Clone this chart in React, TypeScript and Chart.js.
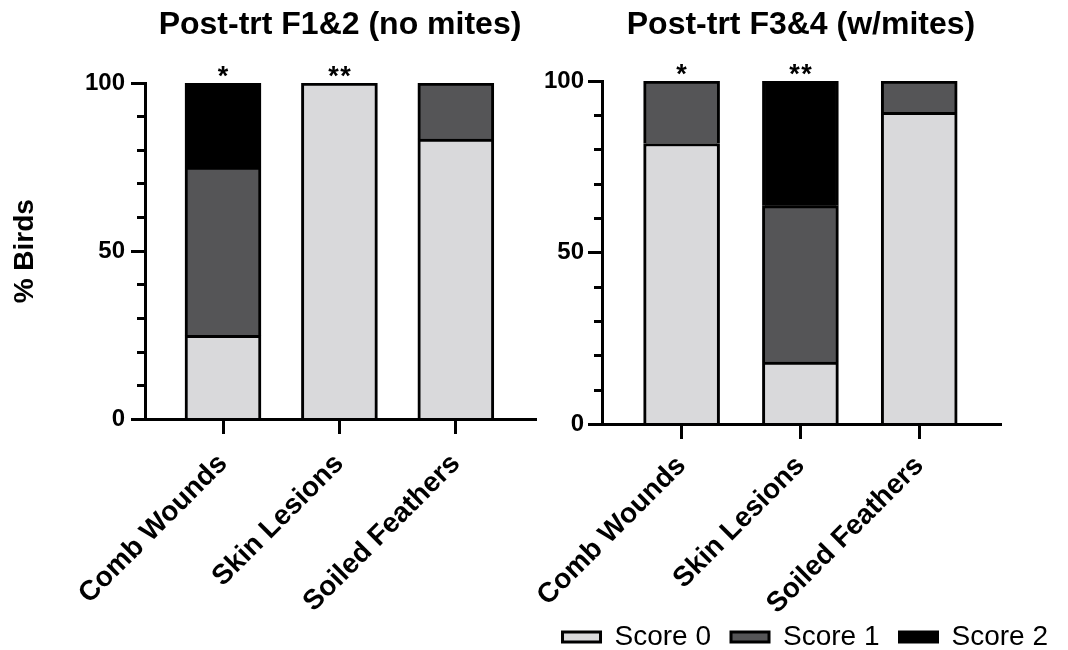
import React, { useEffect, useRef } from "react";
import { Chart, registerables } from "chart.js";

Chart.register(...registerables);

// ---------- data ----------
const categories = ["Comb Wounds", "Skin Lesions", "Soiled Feathers"];
const scoreLabels = ["Score 0", "Score 1", "Score 2"];
const leftScore0 = [25, 100, 83.3];
const leftScore1 = [50, 0, 16.7];
const leftScore2 = [25, 0, 0];
const rightScore0 = [81.8, 18.2, 90.9];
const rightScore1 = [18.2, 45.5, 9.1];
const rightScore2 = [0, 36.4, 0];
const leftSig = ["*", "**", ""];
const rightSig = ["*", "**", ""];
const leftTitle = "Post-trt F1&2 (no mites)";
const rightTitle = "Post-trt F3&4 (w/mites)";
const yAxisTitle = "% Birds";
const yMajorStep = 50;
const yMinorStep = 10;

// ---------- styles ----------
const COLORS = ["#D9D9DB", "#555557", "#000000"];
const FONT = '"Liberation Sans", Arial, Helvetica, sans-serif';
const X_MIN = -0.67;
const X_MAX = 2.68;

Chart.defaults.font.family = FONT;
Chart.defaults.color = "#000";

function sigPlugin(marks: string[]) {
  return {
    id: "sigMarks",
    afterDraw(chart: any) {
      const { ctx } = chart;
      const x = chart.scales.x;
      const y = chart.scales.y;
      ctx.save();
      ctx.font = `bold 27px ${FONT}`;
      ctx.fillStyle = "#000";
      ctx.textAlign = "center";
      ctx.textBaseline = "alphabetic";
      marks.forEach((m, i) => {
        if (!m) return;
        const cx = x.getPixelForValue(i);
        const step = 12;
        const n = m.length;
        for (let j = 0; j < n; j++) {
          ctx.fillText(m[j], cx + (j - (n - 1) / 2) * step, y.getPixelForValue(100) + 2);
        }
      });
      ctx.restore();
    },
  };
}

type Opts = {
  title: string;
  series: number[][];
  sig: string[];
  showYTitle: boolean;
  showLegend: boolean;
  yAxisWidth: number;
  padRight: number;
  xHeight: number;
  titleBottom: number;
  xTickPad: number;
  yTickPad: number;
};

const hiddenAxis = {
  type: "linear",
  display: true,
  ticks: { display: false },
  grid: { display: false },
  border: { display: false },
};

const zeroPad = (s: any) => {
  s.paddingLeft = 0;
  s.paddingRight = 0;
  s.paddingTop = 0;
  s.paddingBottom = 0;
};

function makeConfig(o: Opts): any {
  return {
    type: "bar",
    data: {
      datasets: o.series.map((vals, k) => ({
        label: scoreLabels[k],
        data: vals.map((v, i) => ({ x: i, y: v })),
        backgroundColor: COLORS[k],
        borderColor: "#000",
        borderWidth: 3,
        barThickness: 76,
        xAxisID: "x",
        yAxisID: "y",
      })),
    },
    options: {
      responsive: false,
      animation: false,
      events: [],
      layout: { padding: 0 },
      plugins: {
        tooltip: { enabled: false },
        title: {
          display: true,
          text: o.title,
          color: "#000",
          font: { size: 32, weight: "bold", family: FONT },
          padding: { top: 6, bottom: o.titleBottom },
        },
        legend: {
          display: o.showLegend,
          position: "bottom",
          align: "end",
          labels: {
            boxWidth: 38,
            boxHeight: 10,
            padding: 20,
            color: "#000",
            font: { size: 28, family: FONT },
          },
        },
      },
      scales: {
        x: {
          type: "linear",
          position: { y: 0 },
          min: X_MIN,
          max: X_MAX,
          offset: false,
          stacked: true,
          z: 1,
          afterBuildTicks: (s: any) => {
            s.ticks = categories.map((_, i) => ({ value: i }));
          },
          afterFit: zeroPad,
          ticks: {
            autoSkip: false,
            minRotation: 45,
            maxRotation: 45,
            padding: o.xTickPad,
            color: "#000",
            font: { size: 28, weight: "bold", family: FONT },
            callback: (v: number) => categories[Math.round(v)] ?? "",
          },
          grid: {
            offset: false,
            drawOnChartArea: false,
            drawTicks: true,
            tickLength: 13,
            tickWidth: 3,
            lineWidth: 3,
            color: "#000",
            tickColor: "#000",
          },
          border: { display: true, width: 3, color: "#000" },
        },
        xPad: {
          ...hiddenAxis,
          axis: "x",
          position: "bottom",
          afterFit: (s: any) => {
            s.height = o.xHeight;
            zeroPad(s);
          },
        },
        y: {
          type: "linear",
          position: "left",
          min: 0,
          max: 100,
          stacked: true,
          afterFit: (s: any) => {
            s.width = o.yAxisWidth;
            zeroPad(s);
          },
          ticks: {
            stepSize: yMajorStep,
            padding: o.yTickPad,
            color: "#000",
            font: { size: 24, weight: "bold", family: FONT },
          },
          grid: {
            drawOnChartArea: false,
            drawTicks: true,
            tickLength: 14,
            tickWidth: 3,
            lineWidth: 3,
            color: "#000",
            tickColor: "#000",
          },
          border: { display: true, width: 3, color: "#000" },
          title: {
            display: o.showYTitle,
            text: yAxisTitle,
            color: "#000",
            font: { size: 28, weight: "bold", family: FONT },
            padding: { top: 8, bottom: 0 },
          },
        },
        yMinor: {
          type: "linear",
          axis: "y",
          position: { x: X_MIN },
          min: 0,
          max: 100,
          afterFit: zeroPad,
          ticks: { display: false, stepSize: yMinorStep },
          grid: {
            drawOnChartArea: false,
            drawTicks: true,
            tickLength: 8,
            tickWidth: 3,
            lineWidth: 3,
            color: "#000",
            tickColor: "#000",
          },
          border: { display: false },
        },
        yPad: {
          ...hiddenAxis,
          axis: "y",
          position: "right",
          afterFit: (s: any) => {
            s.width = o.padRight;
            zeroPad(s);
          },
        },
      },
    },
    plugins: [sigPlugin(o.sig)],
  };
}

function ChartCanvas(props: { left: number; width: number; height: number; opts: Opts }) {
  const ref = useRef<HTMLCanvasElement | null>(null);
  useEffect(() => {
    if (!ref.current) return;
    const chart = new Chart(ref.current, makeConfig(props.opts));
    return () => chart.destroy();
  }, []);
  return (
    <canvas
      ref={ref}
      width={props.width}
      height={props.height}
      style={{
        position: "absolute",
        left: props.left,
        top: 0,
        width: props.width,
        height: props.height,
      }}
    />
  );
}

export default function App() {
  const leftOpts: Opts = {
    title: leftTitle,
    series: [leftScore0, leftScore1, leftScore2],
    sig: leftSig,
    showYTitle: true,
    showLegend: false,
    yAxisWidth: 145,
    padRight: 145,
    xHeight: 230.5,
    titleBottom: 38.6,
    xTickPad: 15,
    yTickPad: 6,
  };
  const rightOpts: Opts = {
    title: rightTitle,
    series: [rightScore0, rightScore1, rightScore2],
    sig: rightSig,
    showYTitle: false,
    showLegend: true,
    yAxisWidth: 68,
    padRight: 68,
    xHeight: 178.5,
    titleBottom: 36.6,
    xTickPad: 12,
    yTickPad: 4,
  };
  return (
    <div
      style={{
        position: "absolute",
        left: 0,
        top: 0,
        width: 1068,
        height: 650,
        overflow: "hidden",
        background: "#fff",
      }}
    >
      <ChartCanvas left={0} width={680} height={650} opts={leftOpts} />
      <ChartCanvas left={534} width={534} height={661} opts={rightOpts} />
    </div>
  );
}
